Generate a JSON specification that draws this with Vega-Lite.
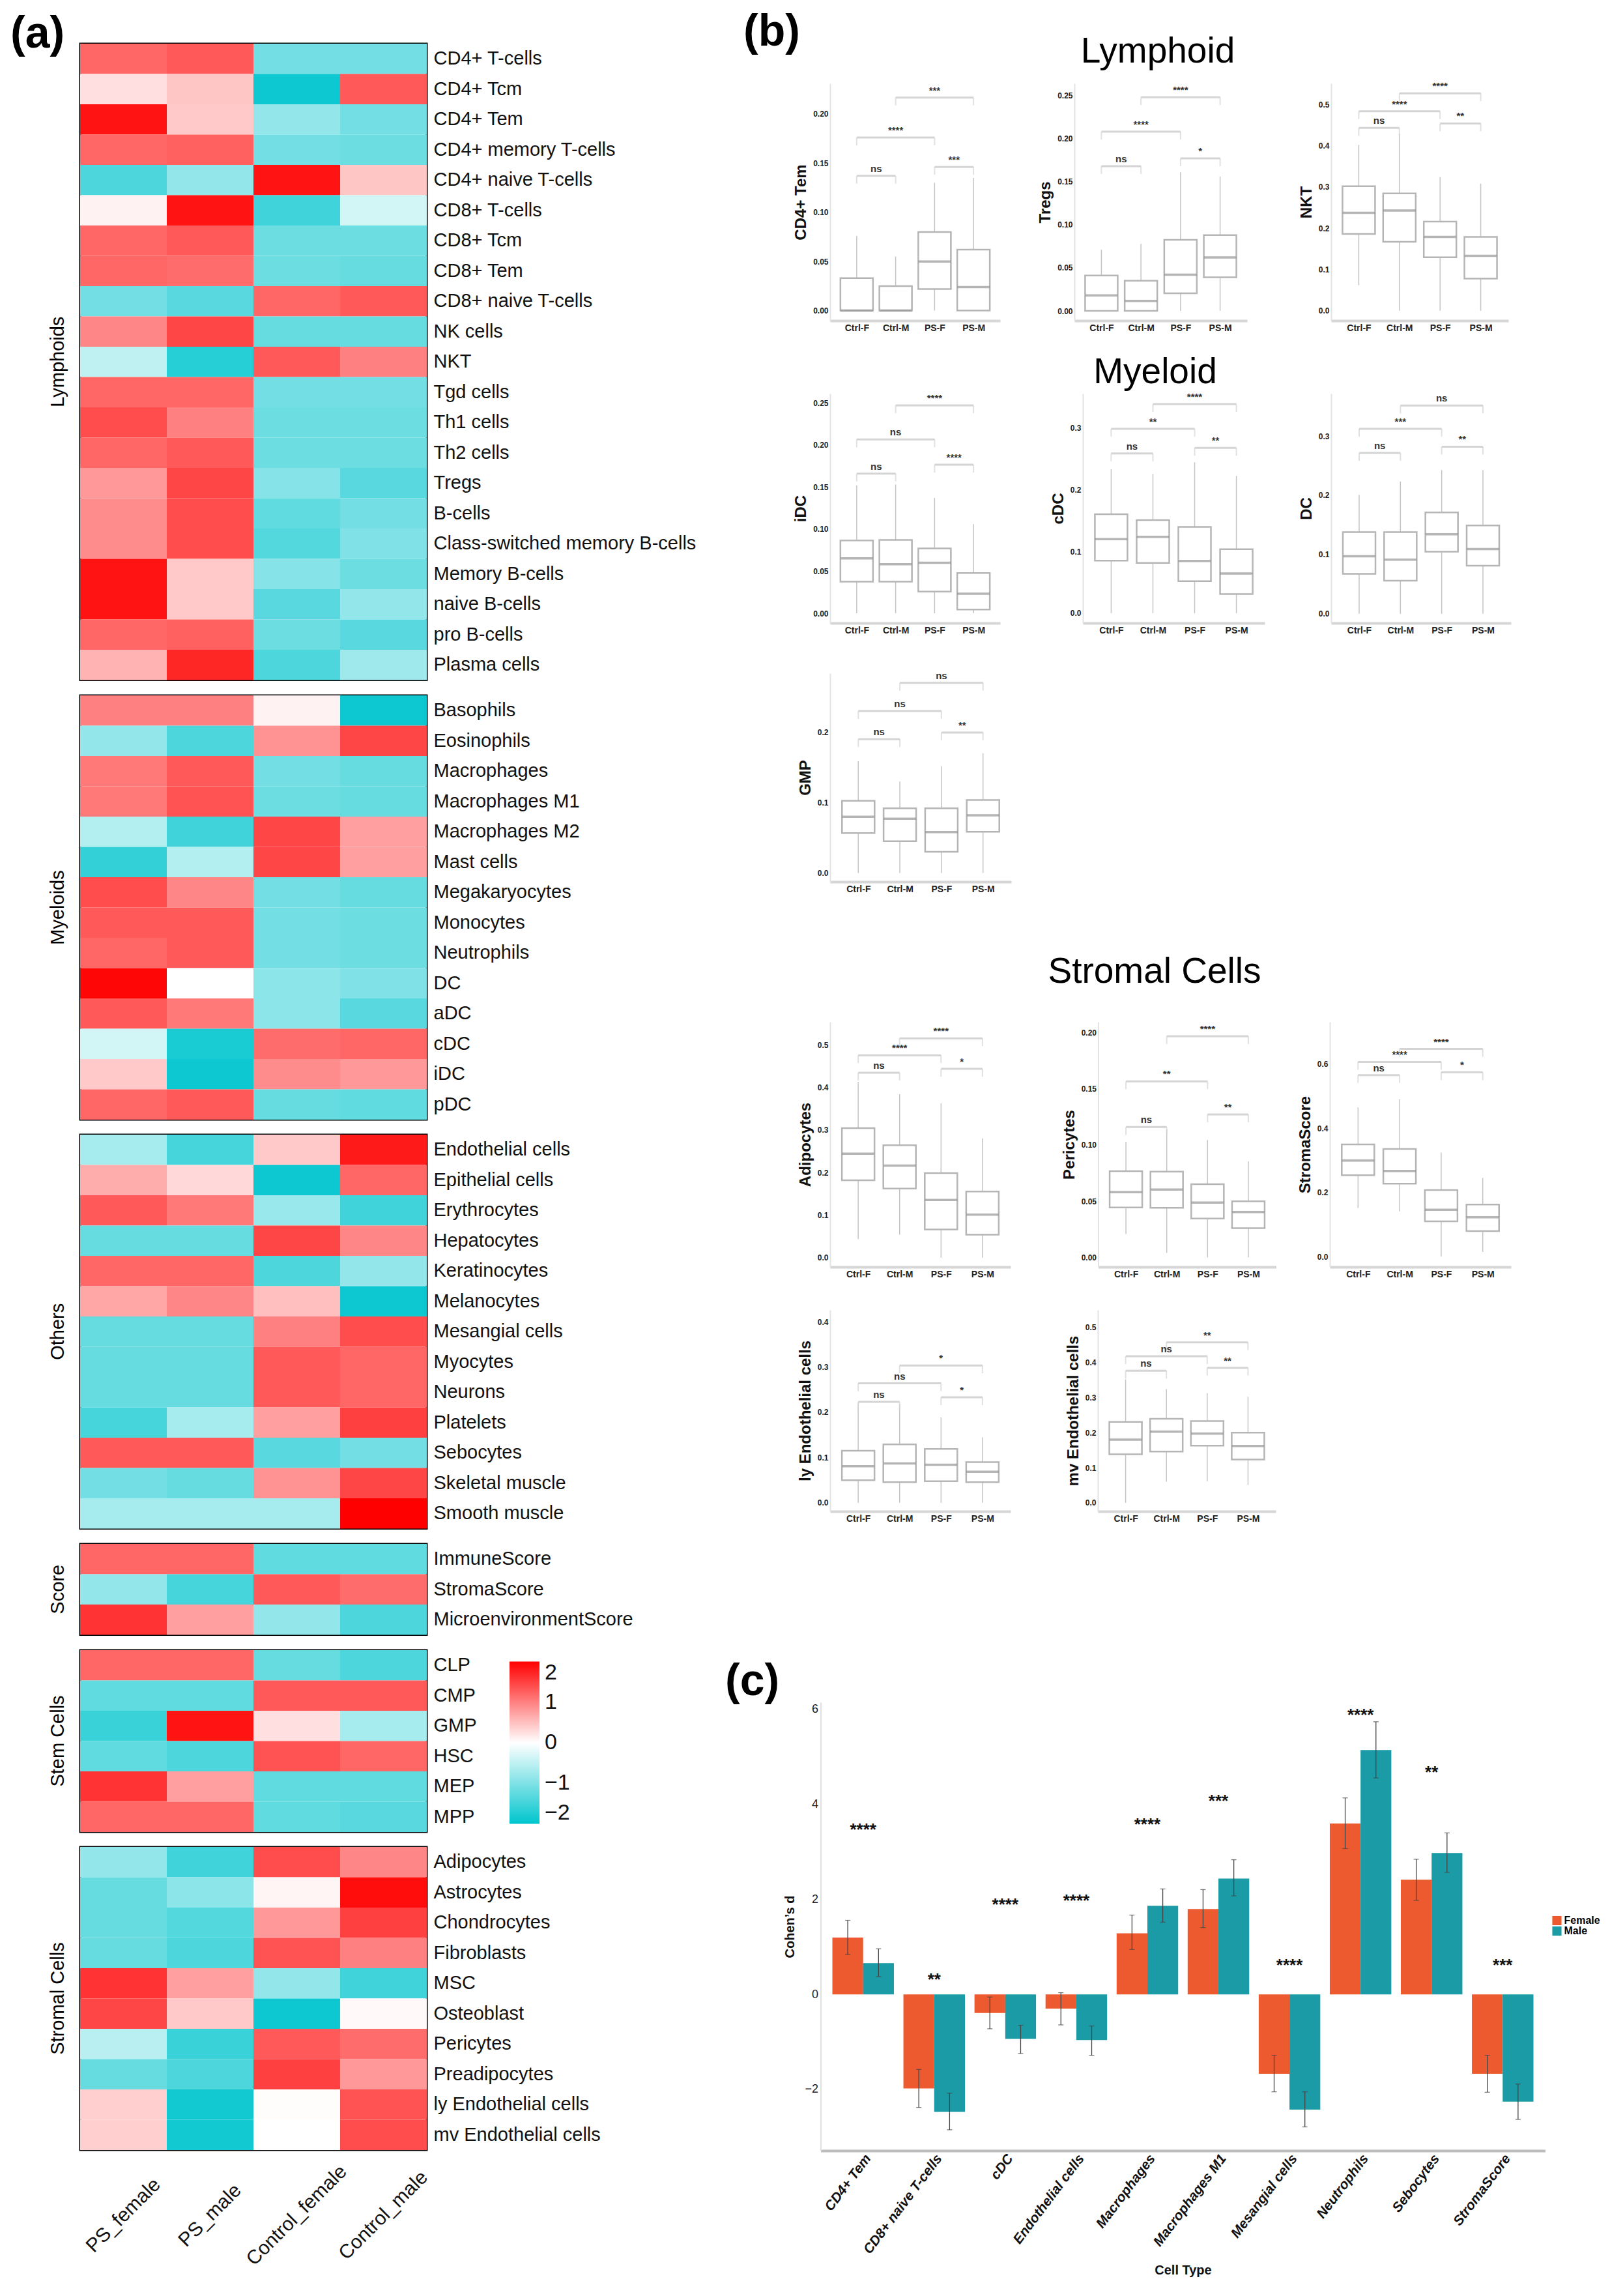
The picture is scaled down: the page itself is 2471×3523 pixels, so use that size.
{
"$schema":"https://vega.github.io/schema/vega-lite/v6.json",
"background":"#FFFFFF",
"padding":{"left":16,"top":16,"right":10,"bottom":10},
"autosize":{"type":"pad"},
"datasets":{
"hm":[
{"g":"Lymphoids","cell":"CD4+ T-cells","PS_female":1.2,"PS_male":1.3,"Control_female":-1.1,"Control_male":-1.1},
{"g":"Lymphoids","cell":"CD4+ Tcm","PS_female":0.25,"PS_male":0.45,"Control_female":-1.9,"Control_male":1.3},
{"g":"Lymphoids","cell":"CD4+ Tem","PS_female":1.85,"PS_male":0.42,"Control_female":-0.85,"Control_male":-1.1},
{"g":"Lymphoids","cell":"CD4+ memory T-cells","PS_female":1.2,"PS_male":1.25,"Control_female":-1.1,"Control_male":-1.15},
{"g":"Lymphoids","cell":"CD4+ naive T-cells","PS_female":-1.4,"PS_male":-0.85,"Control_female":1.85,"Control_male":0.45},
{"g":"Lymphoids","cell":"CD8+ T-cells","PS_female":0.1,"PS_male":1.85,"Control_female":-1.5,"Control_male":-0.35},
{"g":"Lymphoids","cell":"CD8+ Tcm","PS_female":1.2,"PS_male":1.3,"Control_female":-1.15,"Control_male":-1.15},
{"g":"Lymphoids","cell":"CD8+ Tem","PS_female":1.2,"PS_male":1.15,"Control_female":-1.15,"Control_male":-1.2},
{"g":"Lymphoids","cell":"CD8+ naive T-cells","PS_female":-1.1,"PS_male":-1.3,"Control_female":1.2,"Control_male":1.3},
{"g":"Lymphoids","cell":"NK cells","PS_female":0.95,"PS_male":1.45,"Control_female":-1.2,"Control_male":-1.2},
{"g":"Lymphoids","cell":"NKT","PS_female":-0.5,"PS_male":-1.7,"Control_female":1.3,"Control_male":1.0},
{"g":"Lymphoids","cell":"Tgd cells","PS_female":1.2,"PS_male":1.2,"Control_female":-1.1,"Control_male":-1.1},
{"g":"Lymphoids","cell":"Th1 cells","PS_female":1.4,"PS_male":1.0,"Control_female":-1.15,"Control_male":-1.15},
{"g":"Lymphoids","cell":"Th2 cells","PS_female":1.2,"PS_male":1.3,"Control_female":-1.15,"Control_male":-1.15},
{"g":"Lymphoids","cell":"Tregs","PS_female":0.8,"PS_male":1.45,"Control_female":-0.95,"Control_male":-1.3},
{"g":"Lymphoids","cell":"B-cells","PS_female":0.9,"PS_male":1.4,"Control_female":-1.25,"Control_male":-1.1},
{"g":"Lymphoids","cell":"Class-switched memory B-cells","PS_female":0.9,"PS_male":1.4,"Control_female":-1.35,"Control_male":-1.0},
{"g":"Lymphoids","cell":"Memory B-cells","PS_female":1.85,"PS_male":0.42,"Control_female":-0.95,"Control_male":-1.15},
{"g":"Lymphoids","cell":"naive B-cells","PS_female":1.85,"PS_male":0.42,"Control_female":-1.3,"Control_male":-0.85},
{"g":"Lymphoids","cell":"pro B-cells","PS_female":1.2,"PS_male":1.25,"Control_female":-1.15,"Control_male":-1.3},
{"g":"Lymphoids","cell":"Plasma cells","PS_female":0.6,"PS_male":1.7,"Control_female":-1.4,"Control_male":-0.75},
{"g":"Myeloids","cell":"Basophils","PS_female":1.0,"PS_male":1.0,"Control_female":0.1,"Control_male":-1.9},
{"g":"Myeloids","cell":"Eosinophils","PS_female":-0.85,"PS_male":-1.4,"Control_female":0.85,"Control_male":1.45},
{"g":"Myeloids","cell":"Macrophages","PS_female":1.05,"PS_male":1.3,"Control_female":-1.1,"Control_male":-1.2},
{"g":"Myeloids","cell":"Macrophages M1","PS_female":1.05,"PS_male":1.35,"Control_female":-1.15,"Control_male":-1.2},
{"g":"Myeloids","cell":"Macrophages M2","PS_female":-0.6,"PS_male":-1.5,"Control_female":1.45,"Control_male":0.75},
{"g":"Myeloids","cell":"Mast cells","PS_female":-1.6,"PS_male":-0.6,"Control_female":1.45,"Control_male":0.75},
{"g":"Myeloids","cell":"Megakaryocytes","PS_female":1.4,"PS_male":0.95,"Control_female":-1.1,"Control_male":-1.2},
{"g":"Myeloids","cell":"Monocytes","PS_female":1.3,"PS_male":1.3,"Control_female":-1.1,"Control_male":-1.15},
{"g":"Myeloids","cell":"Neutrophils","PS_female":1.2,"PS_male":1.3,"Control_female":-1.1,"Control_male":-1.15},
{"g":"Myeloids","cell":"DC","PS_female":1.95,"PS_male":0.0,"Control_female":-0.9,"Control_male":-1.0},
{"g":"Myeloids","cell":"aDC","PS_female":1.3,"PS_male":1.05,"Control_female":-0.9,"Control_male":-1.3},
{"g":"Myeloids","cell":"cDC","PS_female":-0.35,"PS_male":-1.8,"Control_female":1.15,"Control_male":1.2},
{"g":"Myeloids","cell":"iDC","PS_female":0.42,"PS_male":-1.9,"Control_female":0.9,"Control_male":0.8},
{"g":"Myeloids","cell":"pDC","PS_female":1.2,"PS_male":1.3,"Control_female":-1.2,"Control_male":-1.25},
{"g":"Others","cell":"Endothelial cells","PS_female":-0.7,"PS_male":-1.45,"Control_female":0.42,"Control_male":1.8},
{"g":"Others","cell":"Epithelial cells","PS_female":0.65,"PS_male":0.3,"Control_female":-1.9,"Control_male":1.2},
{"g":"Others","cell":"Erythrocytes","PS_female":1.3,"PS_male":1.05,"Control_female":-0.8,"Control_male":-1.5},
{"g":"Others","cell":"Hepatocytes","PS_female":-1.2,"PS_male":-1.2,"Control_female":1.45,"Control_male":0.95},
{"g":"Others","cell":"Keratinocytes","PS_female":1.2,"PS_male":1.2,"Control_female":-1.4,"Control_male":-0.85},
{"g":"Others","cell":"Melanocytes","PS_female":0.7,"PS_male":0.95,"Control_female":0.5,"Control_male":-1.9},
{"g":"Others","cell":"Mesangial cells","PS_female":-1.2,"PS_male":-1.2,"Control_female":1.0,"Control_male":1.4},
{"g":"Others","cell":"Myocytes","PS_female":-1.2,"PS_male":-1.2,"Control_female":1.3,"Control_male":1.2},
{"g":"Others","cell":"Neurons","PS_female":-1.2,"PS_male":-1.2,"Control_female":1.3,"Control_male":1.2},
{"g":"Others","cell":"Platelets","PS_female":-1.45,"PS_male":-0.7,"Control_female":0.75,"Control_male":1.5},
{"g":"Others","cell":"Sebocytes","PS_female":1.3,"PS_male":1.3,"Control_female":-1.3,"Control_male":-1.1},
{"g":"Others","cell":"Skeletal muscle","PS_female":-1.1,"PS_male":-1.2,"Control_female":0.85,"Control_male":1.45},
{"g":"Others","cell":"Smooth muscle","PS_female":-0.7,"PS_male":-0.7,"Control_female":-0.7,"Control_male":2.0},
{"g":"Score","cell":"ImmuneScore","PS_female":1.2,"PS_male":1.2,"Control_female":-1.25,"Control_male":-1.25},
{"g":"Score","cell":"StromaScore","PS_female":-0.85,"PS_male":-1.45,"Control_female":1.3,"Control_male":1.15},
{"g":"Score","cell":"MicroenvironmentScore","PS_female":1.6,"PS_male":0.75,"Control_female":-0.85,"Control_male":-1.4},
{"g":"Stem Cells","cell":"CLP","PS_female":1.2,"PS_male":1.2,"Control_female":-1.2,"Control_male":-1.4},
{"g":"Stem Cells","cell":"CMP","PS_female":-1.25,"PS_male":-1.25,"Control_female":1.3,"Control_male":1.3},
{"g":"Stem Cells","cell":"GMP","PS_female":-1.55,"PS_male":1.85,"Control_female":0.25,"Control_male":-0.7},
{"g":"Stem Cells","cell":"HSC","PS_female":-1.25,"PS_male":-1.4,"Control_female":1.35,"Control_male":1.2},
{"g":"Stem Cells","cell":"MEP","PS_female":1.6,"PS_male":0.75,"Control_female":-1.25,"Control_male":-1.25},
{"g":"Stem Cells","cell":"MPP","PS_female":1.2,"PS_male":1.2,"Control_female":-1.25,"Control_male":-1.3},
{"g":"Stromal Cells","cell":"Adipocytes","PS_female":-0.85,"PS_male":-1.5,"Control_female":1.4,"Control_male":0.95},
{"g":"Stromal Cells","cell":"Astrocytes","PS_female":-1.2,"PS_male":-0.9,"Control_female":0.08,"Control_male":1.9},
{"g":"Stromal Cells","cell":"Chondrocytes","PS_female":-1.2,"PS_male":-1.35,"Control_female":0.8,"Control_male":1.5},
{"g":"Stromal Cells","cell":"Fibroblasts","PS_female":-1.2,"PS_male":-1.4,"Control_female":1.35,"Control_male":1.0},
{"g":"Stromal Cells","cell":"MSC","PS_female":1.6,"PS_male":0.75,"Control_female":-0.85,"Control_male":-1.5},
{"g":"Stromal Cells","cell":"Osteoblast","PS_female":1.45,"PS_male":0.42,"Control_female":-1.9,"Control_male":0.05},
{"g":"Stromal Cells","cell":"Pericytes","PS_female":-0.55,"PS_male":-1.55,"Control_female":1.3,"Control_male":1.15},
{"g":"Stromal Cells","cell":"Preadipocytes","PS_female":-1.2,"PS_male":-1.4,"Control_female":1.5,"Control_male":0.8},
{"g":"Stromal Cells","cell":"ly Endothelial cells","PS_female":0.38,"PS_male":-1.85,"Control_female":0.02,"Control_male":1.35},
{"g":"Stromal Cells","cell":"mv Endothelial cells","PS_female":0.38,"PS_male":-1.85,"Control_female":0.0,"Control_male":1.4}
],
"box":[
{"panel":"CD4+ Tem","pos":1,"lo":0,"q1":0,"med":0,"q3":0.033,"hi":0.076},
{"panel":"CD4+ Tem","pos":2,"lo":0,"q1":0,"med":0,"q3":0.025,"hi":0.055},
{"panel":"CD4+ Tem","pos":3,"lo":0,"q1":0.022,"med":0.05,"q3":0.08,"hi":0.13},
{"panel":"CD4+ Tem","pos":4,"lo":0,"q1":0,"med":0.024,"q3":0.062,"hi":0.135},
{"panel":"Tregs","pos":1,"lo":0,"q1":0,"med":0.018,"q3":0.041,"hi":0.071},
{"panel":"Tregs","pos":2,"lo":0,"q1":0,"med":0.0115,"q3":0.035,"hi":0.078},
{"panel":"Tregs","pos":3,"lo":0,"q1":0.0205,"med":0.042,"q3":0.0824,"hi":0.161},
{"panel":"Tregs","pos":4,"lo":0,"q1":0.039,"med":0.062,"q3":0.088,"hi":0.156},
{"panel":"NKT","pos":1,"lo":0.062,"q1":0.186,"med":0.2375,"q3":0.302,"hi":0.402},
{"panel":"NKT","pos":2,"lo":0,"q1":0.167,"med":0.243,"q3":0.2845,"hi":0.4295},
{"panel":"NKT","pos":3,"lo":0,"q1":0.1295,"med":0.179,"q3":0.216,"hi":0.324},
{"panel":"NKT","pos":4,"lo":0,"q1":0.078,"med":0.133,"q3":0.179,"hi":0.308},
{"panel":"iDC","pos":1,"lo":0,"q1":0.0375,"med":0.0653,"q3":0.0866,"hi":0.152},
{"panel":"iDC","pos":2,"lo":0,"q1":0.0375,"med":0.0583,"q3":0.0871,"hi":0.153},
{"panel":"iDC","pos":3,"lo":0,"q1":0.0258,"med":0.06,"q3":0.077,"hi":0.137},
{"panel":"iDC","pos":4,"lo":0,"q1":0.0045,"med":0.0233,"q3":0.0478,"hi":0.106},
{"panel":"cDC","pos":1,"lo":0,"q1":0.0853,"med":0.12,"q3":0.1605,"hi":0.2334},
{"panel":"cDC","pos":2,"lo":0,"q1":0.0816,"med":0.1237,"q3":0.151,"hi":0.2257},
{"panel":"cDC","pos":3,"lo":0,"q1":0.0518,"med":0.0846,"q3":0.1398,"hi":0.2447},
{"panel":"cDC","pos":4,"lo":0,"q1":0.0311,"med":0.0642,"q3":0.1037,"hi":0.2224},
{"panel":"DC","pos":1,"lo":0,"q1":0.0674,"med":0.097,"q3":0.1378,"hi":0.2006},
{"panel":"DC","pos":2,"lo":0,"q1":0.0559,"med":0.0914,"q3":0.1378,"hi":0.2232},
{"panel":"DC","pos":3,"lo":0,"q1":0.1047,"med":0.1343,"q3":0.171,"hi":0.2425},
{"panel":"DC","pos":4,"lo":0,"q1":0.0813,"med":0.1093,"q3":0.149,"hi":0.2425},
{"panel":"GMP","pos":1,"lo":0,"q1":0.0566,"med":0.0797,"q3":0.1025,"hi":0.1588},
{"panel":"GMP","pos":2,"lo":0,"q1":0.0452,"med":0.077,"q3":0.0919,"hi":0.1297},
{"panel":"GMP","pos":3,"lo":0,"q1":0.03,"med":0.058,"q3":0.0919,"hi":0.1514},
{"panel":"GMP","pos":4,"lo":0,"q1":0.0585,"med":0.0818,"q3":0.1036,"hi":0.17},
{"panel":"Adipocytes","pos":1,"lo":0.0435,"q1":0.1818,"med":0.2442,"q3":0.3042,"hi":0.4133},
{"panel":"Adipocytes","pos":2,"lo":0.054,"q1":0.1622,"med":0.2164,"q3":0.2643,"hi":0.384},
{"panel":"Adipocytes","pos":3,"lo":0,"q1":0.0664,"med":0.1356,"q3":0.1988,"hi":0.3628},
{"panel":"Adipocytes","pos":4,"lo":0,"q1":0.054,"med":0.101,"q3":0.1553,"hi":0.2803},
{"panel":"Pericytes","pos":1,"lo":0.0208,"q1":0.0444,"med":0.058,"q3":0.0767,"hi":0.1028},
{"panel":"Pericytes","pos":2,"lo":0.004,"q1":0.0442,"med":0.0604,"q3":0.0763,"hi":0.114},
{"panel":"Pericytes","pos":3,"lo":0,"q1":0.0346,"med":0.0488,"q3":0.0651,"hi":0.1045},
{"panel":"Pericytes","pos":4,"lo":0,"q1":0.026,"med":0.0403,"q3":0.0499,"hi":0.0854},
{"panel":"StromaScore","pos":1,"lo":0.1515,"q1":0.2538,"med":0.2993,"q3":0.3497,"hi":0.465},
{"panel":"StromaScore","pos":2,"lo":0.1406,"q1":0.2271,"med":0.2668,"q3":0.3353,"hi":0.4904},
{"panel":"StromaScore","pos":3,"lo":0,"q1":0.1096,"med":0.1457,"q3":0.2076,"hi":0.3245},
{"panel":"StromaScore","pos":4,"lo":0.0144,"q1":0.0793,"med":0.1225,"q3":0.1622,"hi":0.2452},
{"panel":"ly Endothelial cells","pos":1,"lo":0,"q1":0.0496,"med":0.0806,"q3":0.1149,"hi":0.2208},
{"panel":"ly Endothelial cells","pos":2,"lo":0,"q1":0.0455,"med":0.087,"q3":0.129,"hi":0.2175},
{"panel":"ly Endothelial cells","pos":3,"lo":0,"q1":0.0475,"med":0.0838,"q3":0.1189,"hi":0.1885},
{"panel":"ly Endothelial cells","pos":4,"lo":0,"q1":0.0455,"med":0.0685,"q3":0.0899,"hi":0.1443},
{"panel":"mv Endothelial cells","pos":1,"lo":0,"q1":0.138,"med":0.18,"q3":0.2302,"hi":0.3513},
{"panel":"mv Endothelial cells","pos":2,"lo":0.06,"q1":0.1459,"med":0.2028,"q3":0.2392,"hi":0.3235},
{"panel":"mv Endothelial cells","pos":3,"lo":0.0616,"q1":0.1628,"med":0.197,"q3":0.2328,"hi":0.3119},
{"panel":"mv Endothelial cells","pos":4,"lo":0.051,"q1":0.1232,"med":0.1617,"q3":0.1996,"hi":0.3014}
],
"sig":[
{"panel":"CD4+ Tem","x1":1,"x2":2,"xm":1.5,"y":0.137,"label":"ns"},
{"panel":"CD4+ Tem","x1":1,"x2":3,"xm":2,"y":0.176,"label":"****"},
{"panel":"CD4+ Tem","x1":3,"x2":4,"xm":3.5,"y":0.146,"label":"***"},
{"panel":"CD4+ Tem","x1":2,"x2":4,"xm":3,"y":0.2166,"label":"***"},
{"panel":"Tregs","x1":1,"x2":2,"xm":1.5,"y":0.168,"label":"ns"},
{"panel":"Tregs","x1":1,"x2":3,"xm":2,"y":0.208,"label":"****"},
{"panel":"Tregs","x1":3,"x2":4,"xm":3.5,"y":0.177,"label":"*"},
{"panel":"Tregs","x1":2,"x2":4,"xm":3,"y":0.248,"label":"****"},
{"panel":"NKT","x1":1,"x2":2,"xm":1.5,"y":0.443,"label":"ns"},
{"panel":"NKT","x1":1,"x2":3,"xm":2,"y":0.4835,"label":"****"},
{"panel":"NKT","x1":3,"x2":4,"xm":3.5,"y":0.454,"label":"**"},
{"panel":"NKT","x1":2,"x2":4,"xm":3,"y":0.527,"label":"****"},
{"panel":"iDC","x1":1,"x2":2,"xm":1.5,"y":0.166,"label":"ns"},
{"panel":"iDC","x1":1,"x2":3,"xm":2,"y":0.2066,"label":"ns"},
{"panel":"iDC","x1":3,"x2":4,"xm":3.5,"y":0.1765,"label":"****"},
{"panel":"iDC","x1":2,"x2":4,"xm":3,"y":0.247,"label":"****"},
{"panel":"cDC","x1":1,"x2":2,"xm":1.5,"y":0.259,"label":"ns"},
{"panel":"cDC","x1":1,"x2":3,"xm":2,"y":0.299,"label":"**"},
{"panel":"cDC","x1":3,"x2":4,"xm":3.5,"y":0.268,"label":"**"},
{"panel":"cDC","x1":2,"x2":4,"xm":3,"y":0.339,"label":"****"},
{"panel":"DC","x1":1,"x2":2,"xm":1.5,"y":0.2714,"label":"ns"},
{"panel":"DC","x1":1,"x2":3,"xm":2,"y":0.3122,"label":"***"},
{"panel":"DC","x1":3,"x2":4,"xm":3.5,"y":0.2819,"label":"**"},
{"panel":"DC","x1":2,"x2":4,"xm":3,"y":0.3513,"label":"ns"},
{"panel":"GMP","x1":1,"x2":2,"xm":1.5,"y":0.19,"label":"ns"},
{"panel":"GMP","x1":1,"x2":3,"xm":2,"y":0.23,"label":"ns"},
{"panel":"GMP","x1":3,"x2":4,"xm":3.5,"y":0.1995,"label":"**"},
{"panel":"GMP","x1":2,"x2":4,"xm":3,"y":0.27,"label":"ns"},
{"panel":"Adipocytes","x1":1,"x2":2,"xm":1.5,"y":0.4346,"label":"ns"},
{"panel":"Adipocytes","x1":1,"x2":3,"xm":2,"y":0.4756,"label":"****"},
{"panel":"Adipocytes","x1":3,"x2":4,"xm":3.5,"y":0.4436,"label":"*"},
{"panel":"Adipocytes","x1":2,"x2":4,"xm":3,"y":0.5155,"label":"****"},
{"panel":"Pericytes","x1":1,"x2":2,"xm":1.5,"y":0.116,"label":"ns"},
{"panel":"Pericytes","x1":1,"x2":3,"xm":2,"y":0.1567,"label":"**"},
{"panel":"Pericytes","x1":3,"x2":4,"xm":3.5,"y":0.1272,"label":"**"},
{"panel":"Pericytes","x1":2,"x2":4,"xm":3,"y":0.1968,"label":"****"},
{"panel":"StromaScore","x1":1,"x2":2,"xm":1.5,"y":0.566,"label":"ns"},
{"panel":"StromaScore","x1":1,"x2":3,"xm":2,"y":0.607,"label":"****"},
{"panel":"StromaScore","x1":3,"x2":4,"xm":3.5,"y":0.5747,"label":"*"},
{"panel":"StromaScore","x1":2,"x2":4,"xm":3,"y":0.6475,"label":"****"},
{"panel":"ly Endothelial cells","x1":1,"x2":2,"xm":1.5,"y":0.2228,"label":"ns"},
{"panel":"ly Endothelial cells","x1":1,"x2":3,"xm":2,"y":0.2639,"label":"ns"},
{"panel":"ly Endothelial cells","x1":3,"x2":4,"xm":3.5,"y":0.2329,"label":"*"},
{"panel":"ly Endothelial cells","x1":2,"x2":4,"xm":3,"y":0.3034,"label":"*"},
{"panel":"mv Endothelial cells","x1":1,"x2":2,"xm":1.5,"y":0.376,"label":"ns"},
{"panel":"mv Endothelial cells","x1":1,"x2":3,"xm":2,"y":0.4172,"label":"ns"},
{"panel":"mv Endothelial cells","x1":3,"x2":4,"xm":3.5,"y":0.3845,"label":"**"},
{"panel":"mv Endothelial cells","x1":2,"x2":4,"xm":3,"y":0.4568,"label":"**"}
],
"bars":[
{"cell":"CD4+ Tem","sex":"Female","d":1.198,"lo":0.84,"hi":1.56},
{"cell":"CD4+ Tem","sex":"Male","d":0.657,"lo":0.374,"hi":0.96},
{"cell":"CD8+ naive T-cells","sex":"Female","d":-1.978,"lo":-2.38,"hi":-1.58},
{"cell":"CD8+ naive T-cells","sex":"Male","d":-2.472,"lo":-2.85,"hi":-2.08},
{"cell":"cDC","sex":"Female","d":-0.39,"lo":-0.724,"hi":-0.055},
{"cell":"cDC","sex":"Male","d":-0.938,"lo":-1.245,"hi":-0.65},
{"cell":"Endothelial cells","sex":"Female","d":-0.298,"lo":-0.642,"hi":0.036},
{"cell":"Endothelial cells","sex":"Male","d":-0.962,"lo":-1.283,"hi":-0.665},
{"cell":"Macrophages","sex":"Female","d":1.287,"lo":0.945,"hi":1.67},
{"cell":"Macrophages","sex":"Male","d":1.864,"lo":1.52,"hi":2.22},
{"cell":"Macrophages M1","sex":"Female","d":1.796,"lo":1.407,"hi":2.206},
{"cell":"Macrophages M1","sex":"Male","d":2.44,"lo":2.074,"hi":2.835},
{"cell":"Mesangial cells","sex":"Female","d":-1.671,"lo":-2.05,"hi":-1.283},
{"cell":"Mesangial cells","sex":"Male","d":-2.426,"lo":-2.79,"hi":-2.05},
{"cell":"Neutrophils","sex":"Female","d":3.597,"lo":3.07,"hi":4.137},
{"cell":"Neutrophils","sex":"Male","d":5.145,"lo":4.557,"hi":5.74},
{"cell":"Sebocytes","sex":"Female","d":2.416,"lo":1.98,"hi":2.846},
{"cell":"Sebocytes","sex":"Male","d":2.977,"lo":2.57,"hi":3.4},
{"cell":"StromaScore","sex":"Female","d":-1.671,"lo":-2.06,"hi":-1.283},
{"cell":"StromaScore","sex":"Male","d":-2.256,"lo":-2.632,"hi":-1.886}
],
"sigc":[
{"cell":"CD4+ Tem","y":3.465,"label":"****"},
{"cell":"CD8+ naive T-cells","y":0.3,"label":"**"},
{"cell":"cDC","y":1.88,"label":"****"},
{"cell":"Endothelial cells","y":1.96,"label":"****"},
{"cell":"Macrophages","y":3.57,"label":"****"},
{"cell":"Macrophages M1","y":4.07,"label":"***"},
{"cell":"Mesangial cells","y":0.6,"label":"****"},
{"cell":"Neutrophils","y":5.88,"label":"****"},
{"cell":"Sebocytes","y":4.67,"label":"**"},
{"cell":"StromaScore","y":0.6,"label":"***"}
]
},
"config":{
"font":"Liberation Sans",
"view":{"stroke":null},
"axis":{"grid":false,"ticks":false,"labelColor":"#222222","titleColor":"#111111"},
"axisX":{"domainColor":"#D6D6D6","domainWidth":4,"labelFontSize":14,"labelFontWeight":"bold","labelPadding":4,"labelFont":"Liberation Sans Narrow, Liberation Sans","labelAngle":0},
"axisY":{"domainColor":"#E3E3E3","domainWidth":2,"labelFontSize":12,"labelFontWeight":"bold","labelPadding":3,"labelFont":"Liberation Sans Narrow, Liberation Sans","titleFontSize":24,"titleFontWeight":"bold","titlePadding":6,"titleFont":"Liberation Sans"},
"title":{"font":"Liberation Sans","color":"#000000","fontWeight":"normal"}
},
"bounds":"flush",
"spacing":1136.5,
"resolve":{"scale":{"color":"independent"},"legend":{"color":"independent"}},
"hconcat":[
{
"bounds":"flush",
"spacing":23,
"title":{"text":"(a)","anchor":"start","frame":"group","fontSize":68,"fontWeight":"bold","dx":-107,"offset":-21},
"resolve":{"scale":{"color":"independent"},"legend":{"color":"independent"}},
"vconcat":[
{"width":532,"height":976.5,"view":{"stroke":"#000000","strokeWidth":3},
"title":{"text":"Lymphoids","orient":"left","anchor":"middle","offset":19,"fontSize":29,"fontWeight":"normal"},
"data":{"name":"hm"},
"transform":[{"filter":"datum.g==='Lymphoids'"},{"fold":["PS_female","PS_male","Control_female","Control_male"],"as":["col","v"]}],
"mark":"rect",
"encoding":{
"x":{"field":"col","type":"nominal","sort":["PS_female","PS_male","Control_female","Control_male"],"axis":null},
"y":{"field":"cell","type":"nominal","sort":null,"axis":{"orient":"right","title":null,"domain":false,"ticks":false,"labelFontSize":29,"labelFontWeight":"normal","labelFont":"Liberation Sans","labelPadding":10,"labelColor":"#111111","labelLimit":1000}},
"color":{"field":"v","type":"quantitative","scale":{"domain":[-2,0,2],"range":["#00C5CD","#FFFFFF","#FF0000"],"interpolate":"rgb","clamp":true},"legend":null}}},
{"width":532,"height":651,"view":{"stroke":"#000000","strokeWidth":3},
"title":{"text":"Myeloids","orient":"left","anchor":"middle","offset":19,"fontSize":29,"fontWeight":"normal"},
"data":{"name":"hm"},
"transform":[{"filter":"datum.g==='Myeloids'"},{"fold":["PS_female","PS_male","Control_female","Control_male"],"as":["col","v"]}],
"mark":"rect",
"encoding":{
"x":{"field":"col","type":"nominal","sort":["PS_female","PS_male","Control_female","Control_male"],"axis":null},
"y":{"field":"cell","type":"nominal","sort":null,"axis":{"orient":"right","title":null,"domain":false,"ticks":false,"labelFontSize":29,"labelFontWeight":"normal","labelFont":"Liberation Sans","labelPadding":10,"labelColor":"#111111","labelLimit":1000}},
"color":{"field":"v","type":"quantitative","scale":{"domain":[-2,0,2],"range":["#00C5CD","#FFFFFF","#FF0000"],"interpolate":"rgb","clamp":true},"legend":null}}},
{"width":532,"height":604.5,"view":{"stroke":"#000000","strokeWidth":3},
"title":{"text":"Others","orient":"left","anchor":"middle","offset":19,"fontSize":29,"fontWeight":"normal"},
"data":{"name":"hm"},
"transform":[{"filter":"datum.g==='Others'"},{"fold":["PS_female","PS_male","Control_female","Control_male"],"as":["col","v"]}],
"mark":"rect",
"encoding":{
"x":{"field":"col","type":"nominal","sort":["PS_female","PS_male","Control_female","Control_male"],"axis":null},
"y":{"field":"cell","type":"nominal","sort":null,"axis":{"orient":"right","title":null,"domain":false,"ticks":false,"labelFontSize":29,"labelFontWeight":"normal","labelFont":"Liberation Sans","labelPadding":10,"labelColor":"#111111","labelLimit":1000}},
"color":{"field":"v","type":"quantitative","scale":{"domain":[-2,0,2],"range":["#00C5CD","#FFFFFF","#FF0000"],"interpolate":"rgb","clamp":true},"legend":null}}},
{"width":532,"height":139.5,"view":{"stroke":"#000000","strokeWidth":3},
"title":{"text":"Score","orient":"left","anchor":"middle","offset":19,"fontSize":29,"fontWeight":"normal"},
"data":{"name":"hm"},
"transform":[{"filter":"datum.g==='Score'"},{"fold":["PS_female","PS_male","Control_female","Control_male"],"as":["col","v"]}],
"mark":"rect",
"encoding":{
"x":{"field":"col","type":"nominal","sort":["PS_female","PS_male","Control_female","Control_male"],"axis":null},
"y":{"field":"cell","type":"nominal","sort":null,"axis":{"orient":"right","title":null,"domain":false,"ticks":false,"labelFontSize":29,"labelFontWeight":"normal","labelFont":"Liberation Sans","labelPadding":10,"labelColor":"#111111","labelLimit":1000}},
"color":{"field":"v","type":"quantitative","scale":{"domain":[-2,0,2],"range":["#00C5CD","#FFFFFF","#FF0000"],"interpolate":"rgb","clamp":true},"legend":null}}},
{"width":532,"height":279,"view":{"stroke":"#000000","strokeWidth":3},
"title":{"text":"Stem Cells","orient":"left","anchor":"middle","offset":19,"fontSize":29,"fontWeight":"normal"},
"data":{"name":"hm"},
"transform":[{"filter":"datum.g==='Stem Cells'"},{"fold":["PS_female","PS_male","Control_female","Control_male"],"as":["col","v"]}],
"mark":"rect",
"encoding":{
"x":{"field":"col","type":"nominal","sort":["PS_female","PS_male","Control_female","Control_male"],"axis":null},
"y":{"field":"cell","type":"nominal","sort":null,"axis":{"orient":"right","title":null,"domain":false,"ticks":false,"labelFontSize":29,"labelFontWeight":"normal","labelFont":"Liberation Sans","labelPadding":10,"labelColor":"#111111","labelLimit":1000}},
"color":{"field":"v","type":"quantitative","scale":{"domain":[-2,0,2],"range":["#00C5CD","#FFFFFF","#FF0000"],"interpolate":"rgb","clamp":true},"legend":{"orient":"none","legendX":659,"legendY":17.5,"title":null,"direction":"vertical","gradientLength":249,"gradientThickness":46,"values":[-2,-1,0,1,2],"labelFontSize":34,"labelOffset":8,"padding":0,"gradientStrokeWidth":0,"labelColor":"#111111","labelFont":"Liberation Sans"}}}},
{"width":532,"height":465,"view":{"stroke":"#000000","strokeWidth":3},
"title":{"text":"Stromal Cells","orient":"left","anchor":"middle","offset":19,"fontSize":29,"fontWeight":"normal"},
"data":{"name":"hm"},
"transform":[{"filter":"datum.g==='Stromal Cells'"},{"fold":["PS_female","PS_male","Control_female","Control_male"],"as":["col","v"]}],
"mark":"rect",
"encoding":{
"x":{"field":"col","type":"nominal","sort":["PS_female","PS_male","Control_female","Control_male"],"axis":{"orient":"bottom","title":null,"domain":false,"ticks":false,"labelAngle":-45,"labelAlign":"center","labelBaseline":"middle","labelPadding":100,"labelFontSize":30,"labelFontWeight":"normal","labelFont":"Liberation Sans","labelColor":"#111111","labelLimit":1000}},
"y":{"field":"cell","type":"nominal","sort":null,"axis":{"orient":"right","title":null,"domain":false,"ticks":false,"labelFontSize":29,"labelFontWeight":"normal","labelFont":"Liberation Sans","labelPadding":10,"labelColor":"#111111","labelLimit":1000}},
"color":{"field":"v","type":"quantitative","scale":{"domain":[-2,0,2],"range":["#00C5CD","#FFFFFF","#FF0000"],"interpolate":"rgb","clamp":true},"legend":null}}}
]
},
{
"bounds":"flush",
"spacing":60,
"vconcat":[
{"width":1,"height":1,"data":{"values":[]},"mark":"point"},
{
"bounds":"flush",
"spacing":2484,
"vconcat":[
{
"bounds":"flush",
"spacing":13.5,
"hconcat":[
{"width":1,"height":1,"data":{"values":[]},"mark":"point"},
{
"bounds":"flush",
"spacing":476,
"vconcat":[
{
"bounds":"flush",
"spacing":114,
"hconcat":[
{"width":261,"height":364,
"title":{"text":"(b)","anchor":"start","frame":"group","fontSize":68,"fontWeight":"bold","dx":-133,"offset":44},
"encoding":{
"x":{"field":"pos","type":"quantitative","scale":{"domain":[0.4,4.6],"nice":false,"zero":false},"axis":{"values":[1,2,3,4],"labelExpr":"['','Ctrl-F','Ctrl-M','PS-F','PS-M'][datum.value]","title":null}},
"y":{"field":"y","type":"quantitative","scale":{"domain":[-0.0102,0.231],"nice":false,"zero":false},"axis":{"values":[0,0.05,0.1,0.15,0.2],"format":".2f","title":"CD4+ Tem"}}},
"layer":[
{"data":{"name":"box"},"transform":[{"filter":"datum.panel==='CD4+ Tem'"}],"layer":[
{"mark":{"type":"rule","color":"#C4C4C4","strokeWidth":1.5},"encoding":{"y":{"field":"lo","type":"quantitative"},"y2":{"field":"hi"}}},
{"mark":{"type":"bar","orient":"vertical","size":50,"fill":"#FFFFFF","stroke":"#B5B5B5","strokeWidth":2.5},"encoding":{"y":{"field":"q1","type":"quantitative"},"y2":{"field":"q3"}}},
{"mark":{"type":"tick","orient":"horizontal","size":50,"thickness":3.5,"color":"#959595"},"encoding":{"y":{"field":"med","type":"quantitative"}}}]},
{"data":{"name":"sig"},"transform":[{"filter":"datum.panel==='CD4+ Tem'"}],"layer":[
{"mark":{"type":"rule","color":"#D4D4D4","strokeWidth":3},"encoding":{"x":{"field":"x1","type":"quantitative"},"x2":{"field":"x2"}}},
{"mark":{"type":"tick","orient":"vertical","size":12,"thickness":2,"yOffset":6,"color":"#D4D4D4"},"encoding":{"x":{"field":"x1","type":"quantitative"}}},
{"mark":{"type":"tick","orient":"vertical","size":12,"thickness":2,"yOffset":6,"color":"#D4D4D4"},"encoding":{"x":{"field":"x2","type":"quantitative"}}},
{"mark":{"type":"text","baseline":"bottom","dy":-3,"fontSize":15,"fontWeight":"bold","color":"#333333"},"encoding":{"x":{"field":"xm","type":"quantitative"},"text":{"field":"label"}}}]}]},
{
"bounds":"flush",
"spacing":129,
"hconcat":[
{"width":265,"height":364,
"title":{"text":"Lymphoid","anchor":"middle","frame":"group","fontSize":55,"fontWeight":"normal","offset":20,"dx":-4.5},
"encoding":{
"x":{"field":"pos","type":"quantitative","scale":{"domain":[0.4,4.6],"nice":false,"zero":false},"axis":{"values":[1,2,3,4],"labelExpr":"['','Ctrl-F','Ctrl-M','PS-F','PS-M'][datum.value]","title":null}},
"y":{"field":"y","type":"quantitative","scale":{"domain":[-0.0113,0.264],"nice":false,"zero":false},"axis":{"values":[0,0.05,0.1,0.15,0.2,0.25],"format":".2f","title":"Tregs"}}},
"layer":[
{"data":{"name":"box"},"transform":[{"filter":"datum.panel==='Tregs'"}],"layer":[
{"mark":{"type":"rule","color":"#C4C4C4","strokeWidth":1.5},"encoding":{"y":{"field":"lo","type":"quantitative"},"y2":{"field":"hi"}}},
{"mark":{"type":"bar","orient":"vertical","size":50,"fill":"#FFFFFF","stroke":"#B5B5B5","strokeWidth":2.5},"encoding":{"y":{"field":"q1","type":"quantitative"},"y2":{"field":"q3"}}},
{"mark":{"type":"tick","orient":"horizontal","size":50,"thickness":3.5,"color":"#959595"},"encoding":{"y":{"field":"med","type":"quantitative"}}}]},
{"data":{"name":"sig"},"transform":[{"filter":"datum.panel==='Tregs'"}],"layer":[
{"mark":{"type":"rule","color":"#D4D4D4","strokeWidth":3},"encoding":{"x":{"field":"x1","type":"quantitative"},"x2":{"field":"x2"}}},
{"mark":{"type":"tick","orient":"vertical","size":12,"thickness":2,"yOffset":6,"color":"#D4D4D4"},"encoding":{"x":{"field":"x1","type":"quantitative"}}},
{"mark":{"type":"tick","orient":"vertical","size":12,"thickness":2,"yOffset":6,"color":"#D4D4D4"},"encoding":{"x":{"field":"x2","type":"quantitative"}}},
{"mark":{"type":"text","baseline":"bottom","dy":-3,"fontSize":15,"fontWeight":"bold","color":"#333333"},"encoding":{"x":{"field":"xm","type":"quantitative"},"text":{"field":"label"}}}]}]},
{"width":272,"height":364,
"encoding":{
"x":{"field":"pos","type":"quantitative","scale":{"domain":[0.4,4.6],"nice":false,"zero":false},"axis":{"values":[1,2,3,4],"labelExpr":"['','Ctrl-F','Ctrl-M','PS-F','PS-M'][datum.value]","title":null}},
"y":{"field":"y","type":"quantitative","scale":{"domain":[-0.024,0.551],"nice":false,"zero":false},"axis":{"values":[0,0.1,0.2,0.3,0.4,0.5],"format":".1f","title":"NKT"}}},
"layer":[
{"data":{"name":"box"},"transform":[{"filter":"datum.panel==='NKT'"}],"layer":[
{"mark":{"type":"rule","color":"#C4C4C4","strokeWidth":1.5},"encoding":{"y":{"field":"lo","type":"quantitative"},"y2":{"field":"hi"}}},
{"mark":{"type":"bar","orient":"vertical","size":50,"fill":"#FFFFFF","stroke":"#B5B5B5","strokeWidth":2.5},"encoding":{"y":{"field":"q1","type":"quantitative"},"y2":{"field":"q3"}}},
{"mark":{"type":"tick","orient":"horizontal","size":50,"thickness":3.5,"color":"#959595"},"encoding":{"y":{"field":"med","type":"quantitative"}}}]},
{"data":{"name":"sig"},"transform":[{"filter":"datum.panel==='NKT'"}],"layer":[
{"mark":{"type":"rule","color":"#D4D4D4","strokeWidth":3},"encoding":{"x":{"field":"x1","type":"quantitative"},"x2":{"field":"x2"}}},
{"mark":{"type":"tick","orient":"vertical","size":12,"thickness":2,"yOffset":6,"color":"#D4D4D4"},"encoding":{"x":{"field":"x1","type":"quantitative"}}},
{"mark":{"type":"tick","orient":"vertical","size":12,"thickness":2,"yOffset":6,"color":"#D4D4D4"},"encoding":{"x":{"field":"x2","type":"quantitative"}}},
{"mark":{"type":"text","baseline":"bottom","dy":-3,"fontSize":15,"fontWeight":"bold","color":"#333333"},"encoding":{"x":{"field":"xm","type":"quantitative"},"text":{"field":"label"}}}]}]}
]}
]},
{
"bounds":"flush",
"spacing":429,
"vconcat":[
{
"bounds":"flush",
"spacing":127,
"hconcat":[
{"width":261,"height":352,
"encoding":{
"x":{"field":"pos","type":"quantitative","scale":{"domain":[0.4,4.6],"nice":false,"zero":false},"axis":{"values":[1,2,3,4],"labelExpr":"['','Ctrl-F','Ctrl-M','PS-F','PS-M'][datum.value]","title":null}},
"y":{"field":"y","type":"quantitative","scale":{"domain":[-0.0116,0.261],"nice":false,"zero":false},"axis":{"values":[0,0.05,0.1,0.15,0.2,0.25],"format":".2f","title":"iDC"}}},
"layer":[
{"data":{"name":"box"},"transform":[{"filter":"datum.panel==='iDC'"}],"layer":[
{"mark":{"type":"rule","color":"#C4C4C4","strokeWidth":1.5},"encoding":{"y":{"field":"lo","type":"quantitative"},"y2":{"field":"hi"}}},
{"mark":{"type":"bar","orient":"vertical","size":50,"fill":"#FFFFFF","stroke":"#B5B5B5","strokeWidth":2.5},"encoding":{"y":{"field":"q1","type":"quantitative"},"y2":{"field":"q3"}}},
{"mark":{"type":"tick","orient":"horizontal","size":50,"thickness":3.5,"color":"#959595"},"encoding":{"y":{"field":"med","type":"quantitative"}}}]},
{"data":{"name":"sig"},"transform":[{"filter":"datum.panel==='iDC'"}],"layer":[
{"mark":{"type":"rule","color":"#D4D4D4","strokeWidth":3},"encoding":{"x":{"field":"x1","type":"quantitative"},"x2":{"field":"x2"}}},
{"mark":{"type":"tick","orient":"vertical","size":12,"thickness":2,"yOffset":6,"color":"#D4D4D4"},"encoding":{"x":{"field":"x1","type":"quantitative"}}},
{"mark":{"type":"tick","orient":"vertical","size":12,"thickness":2,"yOffset":6,"color":"#D4D4D4"},"encoding":{"x":{"field":"x2","type":"quantitative"}}},
{"mark":{"type":"text","baseline":"bottom","dy":-3,"fontSize":15,"fontWeight":"bold","color":"#333333"},"encoding":{"x":{"field":"xm","type":"quantitative"},"text":{"field":"label"}}}]}]},
{
"bounds":"flush",
"spacing":102,
"hconcat":[
{"width":279,"height":352,
"title":{"text":"Myeloid","anchor":"middle","frame":"group","fontSize":55,"fontWeight":"normal","offset":2,"dx":-28.5},
"encoding":{
"x":{"field":"pos","type":"quantitative","scale":{"domain":[0.4,4.6],"nice":false,"zero":false},"axis":{"values":[1,2,3,4],"labelExpr":"['','Ctrl-F','Ctrl-M','PS-F','PS-M'][datum.value]","title":null}},
"y":{"field":"y","type":"quantitative","scale":{"domain":[-0.016,0.356],"nice":false,"zero":false},"axis":{"values":[0,0.1,0.2,0.3],"format":".1f","title":"cDC"}}},
"layer":[
{"data":{"name":"box"},"transform":[{"filter":"datum.panel==='cDC'"}],"layer":[
{"mark":{"type":"rule","color":"#C4C4C4","strokeWidth":1.5},"encoding":{"y":{"field":"lo","type":"quantitative"},"y2":{"field":"hi"}}},
{"mark":{"type":"bar","orient":"vertical","size":50,"fill":"#FFFFFF","stroke":"#B5B5B5","strokeWidth":2.5},"encoding":{"y":{"field":"q1","type":"quantitative"},"y2":{"field":"q3"}}},
{"mark":{"type":"tick","orient":"horizontal","size":50,"thickness":3.5,"color":"#959595"},"encoding":{"y":{"field":"med","type":"quantitative"}}}]},
{"data":{"name":"sig"},"transform":[{"filter":"datum.panel==='cDC'"}],"layer":[
{"mark":{"type":"rule","color":"#D4D4D4","strokeWidth":3},"encoding":{"x":{"field":"x1","type":"quantitative"},"x2":{"field":"x2"}}},
{"mark":{"type":"tick","orient":"vertical","size":12,"thickness":2,"yOffset":6,"color":"#D4D4D4"},"encoding":{"x":{"field":"x1","type":"quantitative"}}},
{"mark":{"type":"tick","orient":"vertical","size":12,"thickness":2,"yOffset":6,"color":"#D4D4D4"},"encoding":{"x":{"field":"x2","type":"quantitative"}}},
{"mark":{"type":"text","baseline":"bottom","dy":-3,"fontSize":15,"fontWeight":"bold","color":"#333333"},"encoding":{"x":{"field":"xm","type":"quantitative"},"text":{"field":"label"}}}]}]},
{"width":276,"height":352,
"encoding":{
"x":{"field":"pos","type":"quantitative","scale":{"domain":[0.4,4.6],"nice":false,"zero":false},"axis":{"values":[1,2,3,4],"labelExpr":"['','Ctrl-F','Ctrl-M','PS-F','PS-M'][datum.value]","title":null}},
"y":{"field":"y","type":"quantitative","scale":{"domain":[-0.0156,0.3715],"nice":false,"zero":false},"axis":{"values":[0,0.1,0.2,0.3],"format":".1f","title":"DC"}}},
"layer":[
{"data":{"name":"box"},"transform":[{"filter":"datum.panel==='DC'"}],"layer":[
{"mark":{"type":"rule","color":"#C4C4C4","strokeWidth":1.5},"encoding":{"y":{"field":"lo","type":"quantitative"},"y2":{"field":"hi"}}},
{"mark":{"type":"bar","orient":"vertical","size":50,"fill":"#FFFFFF","stroke":"#B5B5B5","strokeWidth":2.5},"encoding":{"y":{"field":"q1","type":"quantitative"},"y2":{"field":"q3"}}},
{"mark":{"type":"tick","orient":"horizontal","size":50,"thickness":3.5,"color":"#959595"},"encoding":{"y":{"field":"med","type":"quantitative"}}}]},
{"data":{"name":"sig"},"transform":[{"filter":"datum.panel==='DC'"}],"layer":[
{"mark":{"type":"rule","color":"#D4D4D4","strokeWidth":3},"encoding":{"x":{"field":"x1","type":"quantitative"},"x2":{"field":"x2"}}},
{"mark":{"type":"tick","orient":"vertical","size":12,"thickness":2,"yOffset":6,"color":"#D4D4D4"},"encoding":{"x":{"field":"x1","type":"quantitative"}}},
{"mark":{"type":"tick","orient":"vertical","size":12,"thickness":2,"yOffset":6,"color":"#D4D4D4"},"encoding":{"x":{"field":"x2","type":"quantitative"}}},
{"mark":{"type":"text","baseline":"bottom","dy":-3,"fontSize":15,"fontWeight":"bold","color":"#333333"},"encoding":{"x":{"field":"xm","type":"quantitative"},"text":{"field":"label"}}}]}]}
]}
]},
{
"bounds":"flush",
"spacing":215,
"vconcat":[
{"width":278,"height":320,
"encoding":{
"x":{"field":"pos","type":"quantitative","scale":{"domain":[0.4,4.6],"nice":false,"zero":false},"axis":{"values":[1,2,3,4],"labelExpr":"['','Ctrl-F','Ctrl-M','PS-F','PS-M'][datum.value]","title":null}},
"y":{"field":"y","type":"quantitative","scale":{"domain":[-0.0125,0.2836],"nice":false,"zero":false},"axis":{"values":[0,0.1,0.2],"format":".1f","title":"GMP"}}},
"layer":[
{"data":{"name":"box"},"transform":[{"filter":"datum.panel==='GMP'"}],"layer":[
{"mark":{"type":"rule","color":"#C4C4C4","strokeWidth":1.5},"encoding":{"y":{"field":"lo","type":"quantitative"},"y2":{"field":"hi"}}},
{"mark":{"type":"bar","orient":"vertical","size":50,"fill":"#FFFFFF","stroke":"#B5B5B5","strokeWidth":2.5},"encoding":{"y":{"field":"q1","type":"quantitative"},"y2":{"field":"q3"}}},
{"mark":{"type":"tick","orient":"horizontal","size":50,"thickness":3.5,"color":"#959595"},"encoding":{"y":{"field":"med","type":"quantitative"}}}]},
{"data":{"name":"sig"},"transform":[{"filter":"datum.panel==='GMP'"}],"layer":[
{"mark":{"type":"rule","color":"#D4D4D4","strokeWidth":3},"encoding":{"x":{"field":"x1","type":"quantitative"},"x2":{"field":"x2"}}},
{"mark":{"type":"tick","orient":"vertical","size":12,"thickness":2,"yOffset":6,"color":"#D4D4D4"},"encoding":{"x":{"field":"x1","type":"quantitative"}}},
{"mark":{"type":"tick","orient":"vertical","size":12,"thickness":2,"yOffset":6,"color":"#D4D4D4"},"encoding":{"x":{"field":"x2","type":"quantitative"}}},
{"mark":{"type":"text","baseline":"bottom","dy":-3,"fontSize":15,"fontWeight":"bold","color":"#333333"},"encoding":{"x":{"field":"xm","type":"quantitative"},"text":{"field":"label"}}}]}]},
{
"bounds":"flush",
"spacing":442,
"vconcat":[
{
"bounds":"flush",
"spacing":134.5,
"hconcat":[
{"width":277,"height":376,
"encoding":{
"x":{"field":"pos","type":"quantitative","scale":{"domain":[0.4,4.6],"nice":false,"zero":false},"axis":{"values":[1,2,3,4],"labelExpr":"['','Ctrl-F','Ctrl-M','PS-F','PS-M'][datum.value]","title":null}},
"y":{"field":"y","type":"quantitative","scale":{"domain":[-0.0218,0.554],"nice":false,"zero":false},"axis":{"values":[0,0.1,0.2,0.3,0.4,0.5],"format":".1f","title":"Adipocytes"}}},
"layer":[
{"data":{"name":"box"},"transform":[{"filter":"datum.panel==='Adipocytes'"}],"layer":[
{"mark":{"type":"rule","color":"#C4C4C4","strokeWidth":1.5},"encoding":{"y":{"field":"lo","type":"quantitative"},"y2":{"field":"hi"}}},
{"mark":{"type":"bar","orient":"vertical","size":50,"fill":"#FFFFFF","stroke":"#B5B5B5","strokeWidth":2.5},"encoding":{"y":{"field":"q1","type":"quantitative"},"y2":{"field":"q3"}}},
{"mark":{"type":"tick","orient":"horizontal","size":50,"thickness":3.5,"color":"#959595"},"encoding":{"y":{"field":"med","type":"quantitative"}}}]},
{"data":{"name":"sig"},"transform":[{"filter":"datum.panel==='Adipocytes'"}],"layer":[
{"mark":{"type":"rule","color":"#D4D4D4","strokeWidth":3},"encoding":{"x":{"field":"x1","type":"quantitative"},"x2":{"field":"x2"}}},
{"mark":{"type":"tick","orient":"vertical","size":12,"thickness":2,"yOffset":6,"color":"#D4D4D4"},"encoding":{"x":{"field":"x1","type":"quantitative"}}},
{"mark":{"type":"tick","orient":"vertical","size":12,"thickness":2,"yOffset":6,"color":"#D4D4D4"},"encoding":{"x":{"field":"x2","type":"quantitative"}}},
{"mark":{"type":"text","baseline":"bottom","dy":-3,"fontSize":15,"fontWeight":"bold","color":"#333333"},"encoding":{"x":{"field":"xm","type":"quantitative"},"text":{"field":"label"}}}]}]},
{
"bounds":"flush",
"spacing":82.5,
"hconcat":[
{"width":273,"height":376,
"title":{"text":"Stromal Cells","anchor":"middle","frame":"group","fontSize":55,"fontWeight":"normal","offset":48,"dx":-50},
"encoding":{
"x":{"field":"pos","type":"quantitative","scale":{"domain":[0.4,4.6],"nice":false,"zero":false},"axis":{"values":[1,2,3,4],"labelExpr":"['','Ctrl-F','Ctrl-M','PS-F','PS-M'][datum.value]","title":null}},
"y":{"field":"y","type":"quantitative","scale":{"domain":[-0.0085,0.2096],"nice":false,"zero":false},"axis":{"values":[0,0.05,0.1,0.15,0.2],"format":".2f","title":"Pericytes"}}},
"layer":[
{"data":{"name":"box"},"transform":[{"filter":"datum.panel==='Pericytes'"}],"layer":[
{"mark":{"type":"rule","color":"#C4C4C4","strokeWidth":1.5},"encoding":{"y":{"field":"lo","type":"quantitative"},"y2":{"field":"hi"}}},
{"mark":{"type":"bar","orient":"vertical","size":50,"fill":"#FFFFFF","stroke":"#B5B5B5","strokeWidth":2.5},"encoding":{"y":{"field":"q1","type":"quantitative"},"y2":{"field":"q3"}}},
{"mark":{"type":"tick","orient":"horizontal","size":50,"thickness":3.5,"color":"#959595"},"encoding":{"y":{"field":"med","type":"quantitative"}}}]},
{"data":{"name":"sig"},"transform":[{"filter":"datum.panel==='Pericytes'"}],"layer":[
{"mark":{"type":"rule","color":"#D4D4D4","strokeWidth":3},"encoding":{"x":{"field":"x1","type":"quantitative"},"x2":{"field":"x2"}}},
{"mark":{"type":"tick","orient":"vertical","size":12,"thickness":2,"yOffset":6,"color":"#D4D4D4"},"encoding":{"x":{"field":"x1","type":"quantitative"}}},
{"mark":{"type":"tick","orient":"vertical","size":12,"thickness":2,"yOffset":6,"color":"#D4D4D4"},"encoding":{"x":{"field":"x2","type":"quantitative"}}},
{"mark":{"type":"text","baseline":"bottom","dy":-3,"fontSize":15,"fontWeight":"bold","color":"#333333"},"encoding":{"x":{"field":"xm","type":"quantitative"},"text":{"field":"label"}}}]}]},
{"width":278,"height":376,
"encoding":{
"x":{"field":"pos","type":"quantitative","scale":{"domain":[0.4,4.6],"nice":false,"zero":false},"axis":{"values":[1,2,3,4],"labelExpr":"['','Ctrl-F','Ctrl-M','PS-F','PS-M'][datum.value]","title":null}},
"y":{"field":"y","type":"quantitative","scale":{"domain":[-0.0325,0.732],"nice":false,"zero":false},"axis":{"values":[0,0.2,0.4,0.6],"format":".1f","title":"StromaScore"}}},
"layer":[
{"data":{"name":"box"},"transform":[{"filter":"datum.panel==='StromaScore'"}],"layer":[
{"mark":{"type":"rule","color":"#C4C4C4","strokeWidth":1.5},"encoding":{"y":{"field":"lo","type":"quantitative"},"y2":{"field":"hi"}}},
{"mark":{"type":"bar","orient":"vertical","size":50,"fill":"#FFFFFF","stroke":"#B5B5B5","strokeWidth":2.5},"encoding":{"y":{"field":"q1","type":"quantitative"},"y2":{"field":"q3"}}},
{"mark":{"type":"tick","orient":"horizontal","size":50,"thickness":3.5,"color":"#959595"},"encoding":{"y":{"field":"med","type":"quantitative"}}}]},
{"data":{"name":"sig"},"transform":[{"filter":"datum.panel==='StromaScore'"}],"layer":[
{"mark":{"type":"rule","color":"#D4D4D4","strokeWidth":3},"encoding":{"x":{"field":"x1","type":"quantitative"},"x2":{"field":"x2"}}},
{"mark":{"type":"tick","orient":"vertical","size":12,"thickness":2,"yOffset":6,"color":"#D4D4D4"},"encoding":{"x":{"field":"x1","type":"quantitative"}}},
{"mark":{"type":"tick","orient":"vertical","size":12,"thickness":2,"yOffset":6,"color":"#D4D4D4"},"encoding":{"x":{"field":"x2","type":"quantitative"}}},
{"mark":{"type":"text","baseline":"bottom","dy":-3,"fontSize":15,"fontWeight":"bold","color":"#333333"},"encoding":{"x":{"field":"xm","type":"quantitative"},"text":{"field":"label"}}}]}]}
]}
]},
{
"bounds":"flush",
"spacing":134,
"hconcat":[
{"width":277,"height":309,
"encoding":{
"x":{"field":"pos","type":"quantitative","scale":{"domain":[0.4,4.6],"nice":false,"zero":false},"axis":{"values":[1,2,3,4],"labelExpr":"['','Ctrl-F','Ctrl-M','PS-F','PS-M'][datum.value]","title":null}},
"y":{"field":"y","type":"quantitative","scale":{"domain":[-0.019,0.426],"nice":false,"zero":false},"axis":{"values":[0,0.1,0.2,0.3,0.4],"format":".1f","title":"ly Endothelial cells"}}},
"layer":[
{"data":{"name":"box"},"transform":[{"filter":"datum.panel==='ly Endothelial cells'"}],"layer":[
{"mark":{"type":"rule","color":"#C4C4C4","strokeWidth":1.5},"encoding":{"y":{"field":"lo","type":"quantitative"},"y2":{"field":"hi"}}},
{"mark":{"type":"bar","orient":"vertical","size":50,"fill":"#FFFFFF","stroke":"#B5B5B5","strokeWidth":2.5},"encoding":{"y":{"field":"q1","type":"quantitative"},"y2":{"field":"q3"}}},
{"mark":{"type":"tick","orient":"horizontal","size":50,"thickness":3.5,"color":"#959595"},"encoding":{"y":{"field":"med","type":"quantitative"}}}]},
{"data":{"name":"sig"},"transform":[{"filter":"datum.panel==='ly Endothelial cells'"}],"layer":[
{"mark":{"type":"rule","color":"#D4D4D4","strokeWidth":3},"encoding":{"x":{"field":"x1","type":"quantitative"},"x2":{"field":"x2"}}},
{"mark":{"type":"tick","orient":"vertical","size":12,"thickness":2,"yOffset":6,"color":"#D4D4D4"},"encoding":{"x":{"field":"x1","type":"quantitative"}}},
{"mark":{"type":"tick","orient":"vertical","size":12,"thickness":2,"yOffset":6,"color":"#D4D4D4"},"encoding":{"x":{"field":"x2","type":"quantitative"}}},
{"mark":{"type":"text","baseline":"bottom","dy":-3,"fontSize":15,"fontWeight":"bold","color":"#333333"},"encoding":{"x":{"field":"xm","type":"quantitative"},"text":{"field":"label"}}}]}]},
{"width":273,"height":309,
"encoding":{
"x":{"field":"pos","type":"quantitative","scale":{"domain":[0.4,4.6],"nice":false,"zero":false},"axis":{"values":[1,2,3,4],"labelExpr":"['','Ctrl-F','Ctrl-M','PS-F','PS-M'][datum.value]","title":null}},
"y":{"field":"y","type":"quantitative","scale":{"domain":[-0.0242,0.549],"nice":false,"zero":false},"axis":{"values":[0,0.1,0.2,0.3,0.4,0.5],"format":".1f","title":"mv Endothelial cells"}}},
"layer":[
{"data":{"name":"box"},"transform":[{"filter":"datum.panel==='mv Endothelial cells'"}],"layer":[
{"mark":{"type":"rule","color":"#C4C4C4","strokeWidth":1.5},"encoding":{"y":{"field":"lo","type":"quantitative"},"y2":{"field":"hi"}}},
{"mark":{"type":"bar","orient":"vertical","size":50,"fill":"#FFFFFF","stroke":"#B5B5B5","strokeWidth":2.5},"encoding":{"y":{"field":"q1","type":"quantitative"},"y2":{"field":"q3"}}},
{"mark":{"type":"tick","orient":"horizontal","size":50,"thickness":3.5,"color":"#959595"},"encoding":{"y":{"field":"med","type":"quantitative"}}}]},
{"data":{"name":"sig"},"transform":[{"filter":"datum.panel==='mv Endothelial cells'"}],"layer":[
{"mark":{"type":"rule","color":"#D4D4D4","strokeWidth":3},"encoding":{"x":{"field":"x1","type":"quantitative"},"x2":{"field":"x2"}}},
{"mark":{"type":"tick","orient":"vertical","size":12,"thickness":2,"yOffset":6,"color":"#D4D4D4"},"encoding":{"x":{"field":"x1","type":"quantitative"}}},
{"mark":{"type":"tick","orient":"vertical","size":12,"thickness":2,"yOffset":6,"color":"#D4D4D4"},"encoding":{"x":{"field":"x2","type":"quantitative"}}},
{"mark":{"type":"text","baseline":"bottom","dy":-3,"fontSize":15,"fontWeight":"bold","color":"#333333"},"encoding":{"x":{"field":"xm","type":"quantitative"},"text":{"field":"label"}}}]}]}
]}
]}
]}
]}
]}
]},
{"width":1112,"height":688,
"title":{"text":"(c)","anchor":"start","frame":"group","fontSize":68,"fontWeight":"bold","dx":-146.5,"offset":-3},
"encoding":{
"x":{"field":"cell","type":"nominal","sort":["CD4+ Tem","CD8+ naive T-cells","cDC","Endothelial cells","Macrophages","Macrophages M1","Mesangial cells","Neutrophils","Sebocytes","StromaScore"],"scale":{"paddingInner":0.134,"paddingOuter":0.165},"axis":{"title":"Cell Type","labelAngle":-53,"labelAlign":"right","labelBaseline":"middle","labelFontStyle":"italic","labelFontWeight":"bold","labelFontSize":21,"labelFont":"Liberation Sans","labelPadding":8,"labelOffset":8,"domainColor":"#BBBBBB","domainWidth":4,"titleFontSize":20,"titleFontWeight":"bold","titlePadding":12,"labelColor":"#111111","labelLimit":500}},
"y":{"field":"d","type":"quantitative","scale":{"domain":[-3.29,6.15],"nice":false,"zero":false},"axis":{"values":[-2,0,2,4,6],"format":"d","title":"Cohen’s d","titleFontSize":20,"titleFontWeight":"bold","labelFontSize":18,"labelFontWeight":"normal","labelPadding":4,"titlePadding":12,"domainColor":"#E0E0E0","domainWidth":2}}},
"layer":[
{"data":{"name":"bars"},"layer":[
{"mark":{"type":"bar"},"encoding":{
"xOffset":{"field":"sex","type":"nominal","sort":["Female","Male"],"scale":{"paddingInner":0,"paddingOuter":0}},
"color":{"field":"sex","type":"nominal","scale":{"domain":["Female","Male"],"range":["#EE5A2F","#1B9BA6"]},"legend":{"orient":"none","legendX":1122,"legendY":2872,"title":null,"symbolType":"square","symbolSize":200,"labelFontSize":16,"labelFontWeight":"bold","labelFont":"Liberation Sans Narrow, Liberation Sans","rowPadding":0,"padding":0,"labelOffset":3,"symbolStrokeWidth":0}}}},
{"mark":{"type":"rule","color":"#444444","strokeWidth":1.3},"encoding":{"xOffset":{"field":"sex","type":"nominal","sort":["Female","Male"]},"y":{"field":"lo","type":"quantitative"},"y2":{"field":"hi"}}},
{"mark":{"type":"tick","orient":"horizontal","size":8,"thickness":1.3,"color":"#444444"},"encoding":{"xOffset":{"field":"sex","type":"nominal","sort":["Female","Male"]},"y":{"field":"lo","type":"quantitative"}}},
{"mark":{"type":"tick","orient":"horizontal","size":8,"thickness":1.3,"color":"#444444"},"encoding":{"xOffset":{"field":"sex","type":"nominal","sort":["Female","Male"]},"y":{"field":"hi","type":"quantitative"}}}]},
{"data":{"name":"sigc"},"mark":{"type":"text","fontSize":26,"fontWeight":"bold","color":"#111111","baseline":"middle"},"encoding":{"y":{"field":"y","type":"quantitative"},"text":{"field":"label"}}}
]}
]}
]}
]
}
